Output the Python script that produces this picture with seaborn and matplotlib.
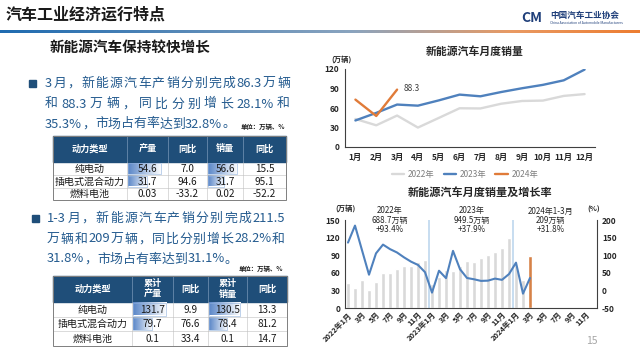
import re
import numpy as np
import pandas as pd
import matplotlib
matplotlib.use("Agg")
import matplotlib.pyplot as plt
import seaborn as sns
from matplotlib.patches import Rectangle
from matplotlib.colors import LinearSegmentedColormap

# ---- data ----
months = ["1月", "2月", "3月", "4月", "5月", "6月", "7月", "8月", "9月", "10月", "11月", "12月"]
sales_2022 = [43.1, 33.4, 48.4, 29.9, 44.7, 59.6, 59.3, 66.6, 70.8, 71.4, 78.6, 81.4]
sales_2023 = [40.8, 52.5, 65.3, 63.6, 71.7, 80.6, 78.0, 84.6, 90.4, 95.6, 102.6, 119.1]
sales_2024 = [72.9, 47.7, 88.3]
growth_2022 = [135.8, 184.1, 114.2, 44.6, 105.2, 130.1, 117.3, 107.7, 93.9, 81.7, 72.3, 51.8]
growth_2023 = [-6.3, 55.9, 34.8, 112.3, 60.2, 35.2, 31.6, 27.0, 27.7, 33.5, 30.0, 46.4]
growth_2024 = [78.8, -9.2, 35.3]
bottom_ticks = ["2022年1月", "3月", "5月", "7月", "9月", "11月",
                "2023年1月", "3月", "5月", "7月", "9月", "11月",
                "2024年1月", "3月", "5月", "7月", "9月", "11月"]
year_labels = ["2022年", "2023年", "2024年1-3月"]
year_totals = ["688.7万辆", "949.5万辆", "209万辆"]
year_growth = ["+93.4%", "+37.9%", "+31.8%"]

power_types = ["纯电动", "插电式混合动力", "燃料电池"]
t1_prod = ["54.6", "31.7", "0.03"]
t1_prod_yoy = ["7.0", "94.6", "-33.2"]
t1_sales = ["56.6", "31.7", "0.02"]
t1_sales_yoy = ["15.5", "95.1", "-52.2"]
t2_prod = ["131.7", "79.7", "0.1"]
t2_prod_yoy = ["9.9", "76.6", "33.4"]
t2_sales = ["130.5", "78.4", "0.1"]
t2_sales_yoy = ["13.3", "81.2", "14.7"]

sns.set_theme(style="white")
plt.rcParams['font.family'] = ['Noto Sans CJK SC', 'DejaVu Sans']
plt.rcParams['axes.unicode_minus'] = False

W, H = 640, 358
fig = plt.figure(figsize=(6.4, 3.58), dpi=100)
bg = fig.add_axes([0, 0, 1, 1])
bg.axis('off')
renderer = fig.canvas.get_renderer()

TXT = '#245b8f'
NAVY = '#1f4e79'
FS = 9.3

# header
bg.text(6, 15, "汽车工业经济运行特点", fontsize=11.5, fontweight='bold', color='#1a1a1a', va='center')
bg.text(521, 18, "CM", fontsize=10, fontweight='heavy', fontstyle='italic', color='#1f3f7a', va='center')
bg.text(550, 15, "中国汽车工业协会", fontsize=6.2, fontweight='bold', color='#1f3f7a', va='center')
bg.text(550, 22.5, "China Association of Automobile Manufacturers", fontsize=2.4, color='#1f3f7a', va='center')
cmap = LinearSegmentedColormap.from_list('div', [(0, '#1f6bb0'), (0.55, '#8aa4bf'), (0.8, '#e99a63'), (1, '#ed7d31')])
bg.imshow(np.linspace(0, 1, 256)[None, :], cmap=cmap, extent=[0, W, 33.5, 31], aspect='auto')
bg.text(50, 47, "新能源汽车保持较快增长", fontsize=10.5, fontweight='bold', color='#1a1a1a', va='center')


def put_line(x0, x1, y, s, **kw):
    toks = re.findall(r'[0-9.%\-]+|.', s)
    objs = [bg.text(0, y, t, va='center', ha='left', **kw) for t in toks]
    widths = [o.get_window_extent(renderer).width for o in objs]
    gap = 0 if x1 is None else (x1 - x0 - sum(widths)) / max(len(toks) - 1, 1)
    x = x0
    for o, w in zip(objs, widths):
        o.set_x(x)
        x += w + gap


# bullet 1
bg.add_patch(Rectangle((29, 80), 7, 7, color=NAVY))
put_line(45, 290, 83.5, "3月，新能源汽车产销分别完成86.3万辆", fontsize=FS, color=TXT)
put_line(45, 290, 104, "和88.3万辆，同比分别增长28.1%和", fontsize=FS, color=TXT)
put_line(45, None, 124, "35.3%，市场占有率达到32.8%。", fontsize=FS, color=TXT)
bg.text(285, 127, "单位：万辆、%", fontsize=4.6, fontweight='bold', color='#1a1a1a', ha='right', va='center')

# bullet 2
bg.add_patch(Rectangle((31.5, 215), 7, 7, color=NAVY))
put_line(47, 285, 218.5, "1-3月，新能源汽车产销分别完成211.5", fontsize=FS, color=TXT)
put_line(47, 285, 239, "万辆和209万辆，同比分别增长28.2%和", fontsize=FS, color=TXT)
put_line(47, None, 259, "31.8%，市场占有率达到31.1%。", fontsize=FS, color=TXT)
bg.text(283, 268, "单位：万辆、%", fontsize=4.6, fontweight='bold', color='#1a1a1a', ha='right', va='center')


def draw_table(xe, ye, header, cols):
    x0, x1 = xe[0], xe[-1]
    bg.add_patch(Rectangle((x0, ye[0]), x1 - x0, ye[1] - ye[0], color=NAVY, zorder=2))
    for i, h in enumerate(header):
        bg.text((xe[i] + xe[i + 1]) / 2, (ye[0] + ye[1]) / 2, h, color='white', fontsize=6.6,
                fontweight='bold', ha='center', va='center', linespacing=1.15, zorder=4)
        if i > 0:
            bg.plot([xe[i], xe[i]], [ye[0], ye[1]], color='#8ea9c8', lw=0.4, zorder=3)
    for c, col in enumerate(cols):
        vals = [float(v) for v in col] if c in (1, 3) else None
        for r, v in enumerate(col):
            ya, yb = ye[r + 1], ye[r + 2]
            xa, xb = xe[c], xe[c + 1]
            if vals is not None:
                L = vals[r] / max(vals) * 0.82 * (xb - xa)
                if L > 1:
                    bg.imshow(np.linspace(0, 1, 64)[None, :],
                              cmap=LinearSegmentedColormap.from_list('db', ['#5b87c8', '#ffffff']),
                              extent=[xa + 0.5, xa + L, yb - 1, ya + 1], aspect='auto', zorder=2)
                    bg.add_patch(Rectangle((xa + 0.5, ya + 1), L - 0.5, yb - ya - 2, fill=False,
                                           ec='#8fb0dc', lw=0.4, zorder=3))
            bg.text((xa + xb) / 2, (ya + yb) / 2 + 0.3, v, fontsize=7.2, color='#1a1a1a',
                    ha='center', va='center', zorder=4)
    for y in ye[2:-1]:
        bg.plot([x0, x1], [y, y], color='#bfbfbf', lw=0.4, zorder=3)
    for x in xe[1:-1]:
        bg.plot([x, x], [ye[1], ye[-1]], color='#bfbfbf', lw=0.4, zorder=3)
    bg.add_patch(Rectangle((x0, ye[0]), x1 - x0, ye[-1] - ye[0], fill=False, ec='#7f7f7f', lw=0.7, zorder=5))


draw_table([53, 127, 168, 207, 243, 286], [136, 162, 175, 187.5, 200],
           ["动力类型", "产量", "同比", "销量", "同比"],
           [power_types, t1_prod, t1_prod_yoy, t1_sales, t1_sales_yoy])
draw_table([53, 132, 173, 208, 247, 287], [276, 302, 316.5, 331, 345.5],
           ["动力类型", "累计\n产量", "同比", "累计\n销量", "同比"],
           [power_types, t2_prod, t2_prod_yoy, t2_sales, t2_sales_yoy])

bg.text(592, 341, "15", color='#a6a6a6', fontsize=7.5, ha='center', va='center')
bg.set_xlim(0, W)
bg.set_ylim(H, 0)

# ---- top chart: monthly sales by year ----
ax1 = fig.add_axes([345 / W, 1 - 147 / H, 250 / W, 78 / H])
ax1.set_facecolor('none')
df_top = pd.DataFrame({
    'month': list(range(1, 13)) + list(range(1, 13)) + list(range(1, 4)),
    'sales': sales_2022 + sales_2023 + sales_2024,
    'year': ['2022年'] * 12 + ['2023年'] * 12 + ['2024年'] * 3,
})
sns.lineplot(data=df_top, x='month', y='sales', hue='year', ax=ax1, linewidth=1.7,
             palette={'2022年': '#d9d9d9', '2023年': '#4f81bd', '2024年': '#e07b39'})
ax1.annotate(f"{sales_2024[-1]}", xy=(3, sales_2024[-1]), xytext=(5, 1), textcoords='offset points',
             fontsize=6, color='#404040', va='center')
ax1.set_xlim(0.5, 12.5)
ax1.set_ylim(0, 120)
ax1.set_yticks(range(0, 121, 30))
ax1.set_xticks(range(1, 13))
ax1.set_xticklabels(months)
ax1.set_xlabel('')
ax1.set_ylabel('')
ax1.tick_params(length=0, labelsize=6, colors='#262626', pad=4)
for t in ax1.get_xticklabels() + ax1.get_yticklabels():
    t.set_fontweight('bold')
for s in ['top', 'right']:
    ax1.spines[s].set_visible(False)
for s in ['left', 'bottom']:
    ax1.spines[s].set_color('#404040')
    ax1.spines[s].set_linewidth(0.8)
h, l = ax1.get_legend_handles_labels()
ax1.legend(h, l, loc='center', bbox_to_anchor=(0.48, -0.35), ncol=3, frameon=False,
           fontsize=6, labelcolor='#7f7f7f', handlelength=1.5, handletextpad=0.4,
           columnspacing=1.1, borderpad=0)
bg.text(475, 51.5, "新能源汽车月度销量", fontsize=7.8, fontweight='bold', color='#262626', ha='center', va='center')
bg.text(342, 59.5, "(万辆)", fontsize=5.3, fontweight='bold', color='#262626', ha='center', va='center')

# ---- bottom chart: monthly sales and growth ----
all_sales = sales_2022 + sales_2023 + sales_2024
all_growth = growth_2022 + growth_2023 + growth_2024
df_bot = pd.DataFrame({
    'idx': range(len(all_sales)),
    'sales': all_sales,
    'growth': all_growth,
    'hl': ['n'] * (len(all_sales) - 1) + ['y'],
})
ax2 = fig.add_axes([344.5 / W, 1 - 308 / H, 252 / W, 88 / H])
ax2.set_facecolor('none')
sns.barplot(data=df_bot, x='idx', y='sales', hue='hl', palette={'n': '#d9d9d9', 'y': '#ed7d31'},
            native_scale=True, width=0.5, dodge=False, legend=False, ax=ax2)
for xs in (11.5, 23.5):
    ax2.axvline(xs, color='#bdd7ee', lw=1.2, zorder=1)
ax2.set_xlim(-0.5, 35.5)
ax2.set_ylim(0, 150)
ax2.set_yticks(range(0, 151, 30))
ax2.set_xticks(range(0, 36, 2))
ax2.set_xticklabels(bottom_ticks, rotation=45, ha='right', rotation_mode='anchor')
ax2.set_xlabel('')
ax2.set_ylabel('')
ax2.tick_params(length=0, labelsize=6, colors='#262626', pad=3)
ax2.tick_params(axis='x', labelsize=5.4, pad=2)
for t in ax2.get_xticklabels() + ax2.get_yticklabels():
    t.set_fontweight('bold')
for s in ['top', 'right']:
    ax2.spines[s].set_visible(False)
for s in ['left', 'bottom']:
    ax2.spines[s].set_color('#404040')
    ax2.spines[s].set_linewidth(0.8)

ax3 = ax2.twinx()
sns.lineplot(data=df_bot, x='idx', y='growth', ax=ax3, color='#4f81bd', linewidth=1.5)
ax3.set_ylim(-50, 200)
ax3.set_yticks(range(-50, 201, 50))
ax3.set_ylabel('')
ax3.tick_params(length=0, labelsize=6, colors='#262626', pad=4)
for t in ax3.get_yticklabels():
    t.set_fontweight('bold')
for s in ['top', 'left']:
    ax3.spines[s].set_visible(False)
ax3.spines['right'].set_color('#404040')
ax3.spines['right'].set_linewidth(0.8)
ax3.spines['bottom'].set_visible(False)

for xc, a, b, c in zip([5.9, 17.7, 28.9], year_labels, year_totals, year_growth):
    ax2.text(xc, 150, f"{a}\n{b}\n{c}", ha='center', va='center', fontsize=5.8,
             color='#262626', linespacing=1.0, zorder=6, clip_on=False)

bg.text(480, 192, "新能源汽车月度销量及增长率", fontsize=8, fontweight='bold', color='#262626', ha='center', va='center')
bg.text(345, 208, "(万辆)", fontsize=5.3, fontweight='bold', color='#262626', ha='center', va='center')
bg.text(594, 209, "(%)", fontsize=5.3, fontweight='bold', color='#262626', ha='center', va='center')

fig.savefig('out.png', dpi=100)
